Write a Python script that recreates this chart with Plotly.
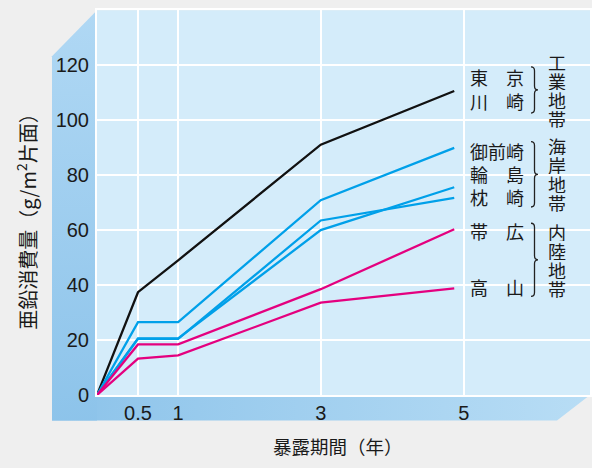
import plotly.graph_objects as go

W, H = 592, 468

# --- exposure period axis -------------------------------------------------
period_labels = ["0.5", "1", "3", "5"]
period_ticks = [0.575, 1.138, 3.138, 5.145]      # where each period sits on the time axis
sample_pos = [0, 0.575, 1.138, 3.138, 5.01]       # measurement points along the time axis

# --- zinc consumption (g/m² one side) -------------------------------------
tokyo = [0, 37.4, 49.0, 91.1, 110.6]
omaezaki = [0, 26.5, 26.5, 70.9, 89.9]
wajima = [0, 20.6, 20.6, 60.0, 75.6]
makurazaki = [0, 20.4, 20.4, 63.5, 71.7]
obihiro = [0, 18.4, 18.4, 38.5, 60.3]
takayama = [0, 13.2, 14.4, 33.6, 38.8]

y_ticks = [0, 20, 40, 60, 80, 100, 120]

site_names = ["東　京", "川　崎", "御前崎", "輪　島", "枕　崎", "帯　広", "高　山"]
site_label_y = [115.7, 107.0, 88.7, 80.3, 72.0, 59.7, 39.3]

zone_names = ["工業地帯", "海岸地帯", "内陸地帯"]
zone_center = [111.0, 80.3, 49.2]
zone_half = [8.4, 11.9, 13.3]

BLACK = "#111111"
BLUE = "#00a0e9"
MAGENTA = "#e4007f"

series = [
    (tokyo, BLACK, "東京・川崎"),
    (omaezaki, BLUE, "御前崎"),
    (wajima, BLUE, "輪島"),
    (makurazaki, BLUE, "枕崎"),
    (obihiro, MAGENTA, "帯広"),
    (takayama, MAGENTA, "高山"),
]

# --- panel geometry (pixels) ---------------------------------------------
PX_L, PX_R, PX_T, PX_B = 97, 590, 10.5, 404.5
WALL_X = 45          # depth of the left wall
WALL_TOP = 47        # drop of the wall's bevelled top corner
FLOOR_Y = 26         # depth of the floor
FLOOR_CUT = 33       # bevel at the floor's right end
X_MAX = 6.914
Y_MAX = 140

fig = go.Figure()

# backdrop subplot in pixel space: back panel, floor and left wall
fig.add_trace(go.Scatter(
    x=[PX_L, PX_R, PX_R, PX_L, PX_L], y=[PX_T, PX_T, PX_B, PX_B, PX_T],
    fill="toself", fillcolor="#d4ecfa", mode="lines",
    line=dict(width=0, color="rgba(0,0,0,0)"), hoverinfo="skip",
    xaxis="x", yaxis="y"))
fig.add_trace(go.Scatter(
    x=[PX_L - WALL_X, PX_R, PX_R - FLOOR_CUT, PX_L - WALL_X, PX_L - WALL_X],
    y=[PX_B, PX_B, PX_B + FLOOR_Y, PX_B + FLOOR_Y, PX_B],
    fill="toself", mode="lines", line=dict(width=0, color="rgba(0,0,0,0)"),
    fillgradient=dict(type="horizontal", start=PX_L - WALL_X, stop=PX_R,
                      colorscale=[[0, "#8cc3ea"], [1, "#b8ddf5"]]),
    hoverinfo="skip", xaxis="x", yaxis="y"))
fig.add_trace(go.Scatter(
    x=[PX_L - WALL_X, PX_L, PX_L, PX_L - WALL_X, PX_L - WALL_X],
    y=[PX_T + WALL_TOP, PX_T, PX_B + FLOOR_Y, PX_B + FLOOR_Y, PX_T + WALL_TOP],
    fill="toself", mode="lines", line=dict(width=0, color="rgba(0,0,0,0)"),
    fillgradient=dict(type="vertical", start=PX_T, stop=PX_B + FLOOR_Y,
                      colorscale=[[0, "#b0d8f4"], [1, "#8cc3ea"]]),
    hoverinfo="skip", xaxis="x", yaxis="y"))

# measured series
for vals, color, name in series:
    fig.add_trace(go.Scatter(
        x=sample_pos, y=vals, mode="lines", name=name,
        line=dict(color=color, width=2.3), xaxis="x2", yaxis="y2"))

annotations = []
cjk = "Noto Sans CJK JP"

for name, yv in zip(site_names, site_label_y):
    annotations.append(dict(
        x=5.203, y=yv, xref="x2", yref="y2", text=name, showarrow=False,
        xanchor="left", yanchor="middle",
        font=dict(family=cjk, size=18, color="#1a1a1a")))

# group braces and vertical group names
Y_PX = (PX_B - PX_T) / Y_MAX
X_PX = (PX_R - PX_L) / X_MAX
shapes = []
bx0 = (531 - PX_L) / X_PX
bw = 7 / X_PX
r = 4 / Y_PX
for name, yc, half in zip(zone_names, zone_center, zone_half):
    x1 = bx0 + bw / 2
    x2 = bx0 + bw
    yt, yb = yc + half, yc - half
    path = (f"M {bx0},{yt} Q {x1},{yt} {x1},{yt - r} L {x1},{yc + r} "
            f"Q {x1},{yc} {x2},{yc} Q {x1},{yc} {x1},{yc - r} "
            f"L {x1},{yb + r} Q {x1},{yb} {bx0},{yb}")
    shapes.append(dict(type="path", path=path, xref="x2", yref="y2",
                       line=dict(color="#222222", width=1.3)))
    n = len(name)
    for i, ch in enumerate(name):
        annotations.append(dict(
            x=(557 - PX_L) / X_PX, y=yc, xref="x2", yref="y2", text=ch,
            showarrow=False, xanchor="center", yanchor="middle",
            yshift=((n - 1) / 2 - i) * 19, height=19,
            font=dict(family=cjk, size=18, color="#1a1a1a")))

# axis titles
annotations.append(dict(
    x=26 / W, y=1 - 222 / H, xref="paper", yref="paper",
    text="亜鉛消費量（g/m<sup>2</sup>片面）", textangle=-90, showarrow=False,
    xanchor="center", yanchor="middle",
    font=dict(family=cjk, size=20, color="#1a1a1a")))
annotations.append(dict(
    x=338 / W, y=1 - 457 / H, xref="paper", yref="paper",
    text="暴露期間（年）", showarrow=False, xanchor="center", yanchor="middle",
    font=dict(family=cjk, size=18.5, color="#1a1a1a")))

tick_font = dict(family="Liberation Sans, Arial, sans-serif", size=20, color="#1a1a1a")

fig.update_layout(
    width=W, height=H, margin=dict(l=0, r=0, t=0, b=0),
    paper_bgcolor="#efefef", plot_bgcolor="rgba(0,0,0,0)",
    showlegend=False,
    xaxis=dict(domain=[0, 1], range=[0, W], visible=False, fixedrange=True),
    yaxis=dict(domain=[0, 1], range=[H, 0], visible=False, fixedrange=True),
    xaxis2=dict(domain=[PX_L / W, PX_R / W], range=[0, X_MAX], anchor="y2",
                tickmode="array", tickvals=period_ticks, ticktext=period_labels,
                showgrid=True, gridcolor="white", gridwidth=2,
                showline=True, mirror=True, linecolor="white", linewidth=2,
                zeroline=False, ticks="", tickfont=tick_font,
                ticklabelstandoff=-1),
    yaxis2=dict(domain=[1 - PX_B / H, 1 - PX_T / H], range=[0, Y_MAX], anchor="x2",
                tickmode="array", tickvals=y_ticks,
                showgrid=True, gridcolor="white", gridwidth=2,
                showline=True, mirror=True, linecolor="white", linewidth=2,
                zeroline=False, ticks="", tickfont=tick_font,
                ticklabelstandoff=2),
    annotations=annotations,
    shapes=shapes,
)

fig.write_html("out.html")
